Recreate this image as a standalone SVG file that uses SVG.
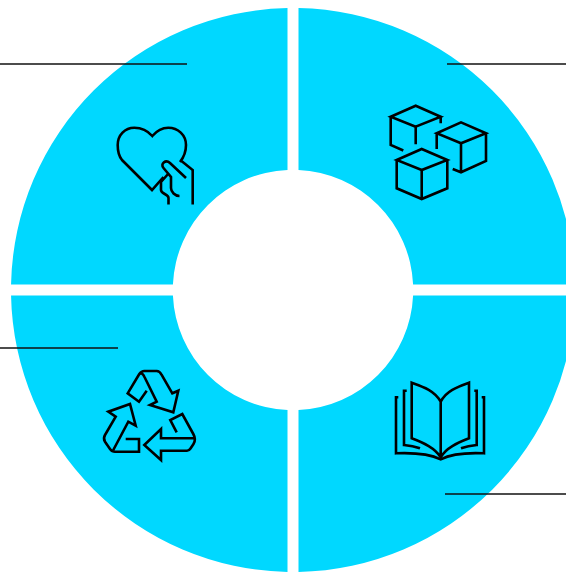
<svg xmlns="http://www.w3.org/2000/svg" width="566" height="572" viewBox="0 0 566 572">
<style>
.seg{fill:#00d8ff}
.ic{fill:none;stroke:#000;stroke-width:2.6;stroke-linejoin:miter;stroke-linecap:butt}
.ld{fill:none;stroke:#111;stroke-width:1.5}
</style>
<rect width="566" height="572" fill="#fff"/>
<g id="segment-top-left">
<path class="seg" d="M287.500 8.050A282 282 0 0 0 11.050 284.500H172.900A120.200 120.200 0 0 1 287.500 169.900Z"/>
<g id="icon-heart" class="ic">
<path d="M163.500 177L152 190L122 160C119.500 157 117.700 151 117.700 145C117.700 135 125 127.700 134.300 127.700C141 127.700 148 131 152.300 136C156.500 131 162 127.700 168.300 127.700C178 127.700 186 135 186 145C186 150 184 157 180 162"/>
<path d="M186 178L170 163C165.500 159 160 164 163.500 168L171 177V188C171 192 175 196 179.500 196"/>
<path d="M168.500 173.500L161 182V190C161 194 168.500 194 168.500 198V204.500"/>
<path d="M181.500 161L192.700 170V204.500"/>
</g>
</g>
<g id="segment-top-right">
<path class="seg" d="M298.500 8.050A282 282 0 0 1 575 284.500H413.100A120.200 120.200 0 0 0 298.500 169.900Z"/>
<g id="icon-cubes" class="ic">
<path d="M415.700 126.700L390.700 116.700L415.700 105.700L440.700 116.700ZM415.700 126.700V144.300M390.700 116.700V145L403.300 150.500M440.700 116.700V123.300"/>
<path d="M461 143.300L436.700 133.300L461 122.300L486 133.300ZM461 143.300V172.300M436.700 133.300V149M486 133.300V161L461 172.300L452.700 169"/>
<path d="M421.700 170L396.700 160L421.700 149L447.300 160ZM421.700 170V199M396.700 160V188.300L421.700 199L447.300 188.300V160"/>
</g>
</g>
<g id="segment-bottom-left">
<path class="seg" d="M287.500 571.950A282 282 0 0 1 11.050 295.500H172.900A120.200 120.200 0 0 0 287.500 410.100Z"/>
<g id="icon-recycle" class="ic">
<path d="M146.700 390.700L139 401.700L127.700 393.300L139.300 374C141 371.500 142 371 144.300 371H156.700C159 371 160.500 372.500 161.700 375L172.300 393.300L178.300 390.700L173.300 412.300L150 405L156.700 401.700L144.500 377C143 373.500 141 372.500 139.300 374"/>
<path d="M176.700 432.300L170.300 420L182.300 414L193.300 434C195.500 438 195.500 441 193.500 444L190.500 448.500C189.500 450 189 450.700 187 450.700H161V460L144.300 445L161 429V438.300H193.500"/>
<path d="M125.700 439H139V451.700H115C113 451.700 111.500 451 110 449L105 441.700C103.500 439.500 103.500 437.500 105 435L115.700 416.700L108.300 411.700L130 404L135.700 425.700L128.300 421.700L113.300 450"/>
</g>
</g>
<g id="segment-bottom-right">
<path class="seg" d="M298.500 571.950A282 282 0 0 0 575 295.500H413.100A120.200 120.200 0 0 1 298.500 410.100Z"/>
<g id="icon-book" class="ic">
<path d="M440.700 401.700C435 391 424 387 411.700 382.700V438.300C424 443 435 448 440.700 457.300C446 448 457 443 469 438.300V382.700C457 387 446 391 440.700 401.700V457.300"/>
<path d="M406.700 390.700H404V445C410 445.500 415 446.500 420 448.300"/>
<path d="M474.300 390.700H476.700V445C471 445.500 466 446.500 461 448.300"/>
<path d="M398.300 397.300H396V453.300C415 452.500 430 454 440.700 459.300C451 454 466 452.500 484 453.300V397.300H481.700"/>
</g>
</g>
<g id="connectors" class="ld">
<path d="M0 64H187"/>
<path d="M447 64H566"/>
<path d="M0 348H118"/>
<path d="M445 494H566"/>
</g>
</svg>
